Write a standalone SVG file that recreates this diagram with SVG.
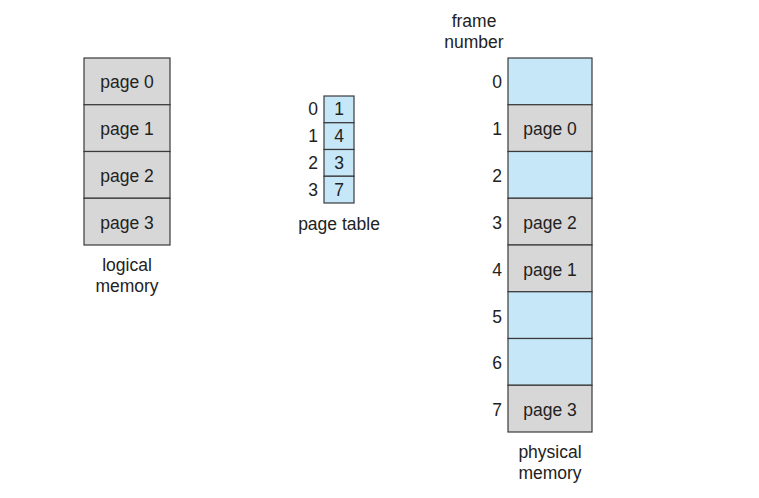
<svg xmlns="http://www.w3.org/2000/svg" width="759" height="498" viewBox="0 0 759 498">
<style>
text{font-family:"Liberation Sans",Arial,sans-serif;font-size:17.5px;fill:#222}
.g{fill:#d7d7d7;stroke:#3a3a3a;stroke-width:1.2}
.b{fill:#c6e7f7;stroke:#3a3a3a;stroke-width:1.2}
.c{text-anchor:middle}
.r{text-anchor:end}
</style>
<rect width="759" height="498" fill="#fff"/>
<g id="logical-memory">
<rect class="g" x="84" y="58" width="86" height="46.75"/>
<rect class="g" x="84" y="104.75" width="86" height="46.75"/>
<rect class="g" x="84" y="151.5" width="86" height="46.75"/>
<rect class="g" x="84" y="198.25" width="86" height="46.75"/>
<text class="c" x="127" y="88">page 0</text>
<text class="c" x="127" y="135">page 1</text>
<text class="c" x="127" y="182">page 2</text>
<text class="c" x="127" y="229">page 3</text>
<text class="c" x="127" y="271">logical</text>
<text class="c" x="127" y="292">memory</text>
</g>
<g id="page-table">
<rect class="b" x="324" y="96" width="30" height="26.75"/>
<rect class="b" x="324" y="122.75" width="30" height="26.75"/>
<rect class="b" x="324" y="149.5" width="30" height="26.75"/>
<rect class="b" x="324" y="176.25" width="30" height="26.75"/>
<text class="c" x="339" y="115">1</text>
<text class="c" x="339" y="142">4</text>
<text class="c" x="339" y="169">3</text>
<text class="c" x="339" y="196">7</text>
<text class="r" x="318" y="115">0</text>
<text class="r" x="318" y="142">1</text>
<text class="r" x="318" y="169">2</text>
<text class="r" x="318" y="196">3</text>
<text class="c" x="339" y="230">page table</text>
</g>
<g id="physical-memory">
<rect class="b" x="508" y="58" width="84" height="46.75"/>
<rect class="g" x="508" y="104.75" width="84" height="46.75"/>
<rect class="b" x="508" y="151.5" width="84" height="46.75"/>
<rect class="g" x="508" y="198.25" width="84" height="46.75"/>
<rect class="g" x="508" y="245" width="84" height="46.75"/>
<rect class="b" x="508" y="291.75" width="84" height="46.75"/>
<rect class="b" x="508" y="338.5" width="84" height="46.75"/>
<rect class="g" x="508" y="385.25" width="84" height="46.75"/>
<text class="c" x="550" y="135">page 0</text>
<text class="c" x="550" y="229">page 2</text>
<text class="c" x="550" y="276">page 1</text>
<text class="c" x="550" y="416">page 3</text>
<text class="r" x="502" y="88">0</text>
<text class="r" x="502" y="135">1</text>
<text class="r" x="502" y="182">2</text>
<text class="r" x="502" y="229">3</text>
<text class="r" x="502" y="276">4</text>
<text class="r" x="502" y="323">5</text>
<text class="r" x="502" y="369">6</text>
<text class="r" x="502" y="416">7</text>
<text class="c" x="474" y="27">frame</text>
<text class="c" x="474" y="48">number</text>
<text class="c" x="550" y="458">physical</text>
<text class="c" x="550" y="479">memory</text>
</g>
<g id="connectors"></g>
</svg>
